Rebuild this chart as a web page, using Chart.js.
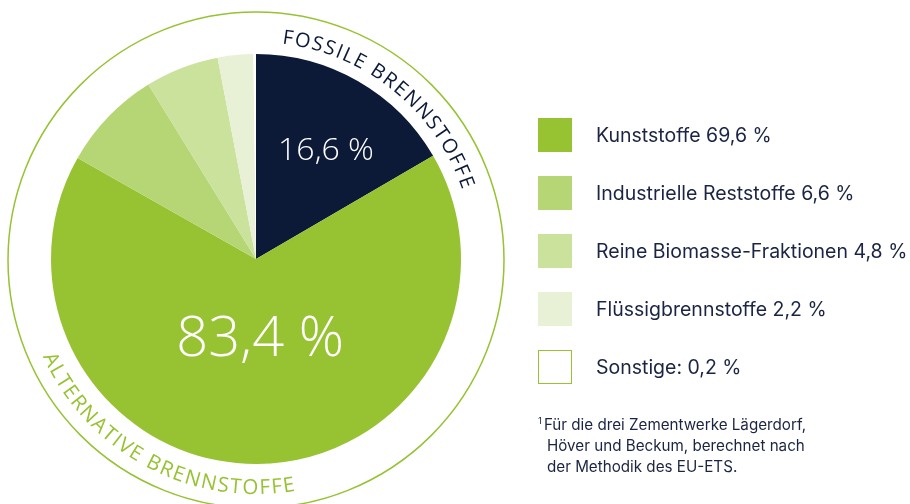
<!DOCTYPE html>
<html>
<head>
<meta charset="utf-8">
<script src="https://cdn.jsdelivr.net/npm/chart.js@4.4.1/dist/chart.umd.min.js"></script>
<style>
  html, body { margin: 0; padding: 0; background: #fff; }
  #wrap { position: relative; width: 910px; height: 504px; font-family: "Inter", "Open Sans", sans-serif; color: #1b2442; }
  #chart { position: absolute; left: 0; top: 0; }
  .row { position: absolute; left: 538px; height: 34px; display: flex; align-items: center; font-size: 19.5px; }
  .sw { width: 34px; height: 34px; box-sizing: border-box; margin-right: 24px; }
  #note { position: absolute; left: 538px; top: 410px; font-size: 15.2px; line-height: 21px; }
  #note sup { font-size: 9.5px; vertical-align: 6px; margin-right: 2px; }
  #note div { padding-left: 9px; }
</style>
</head>
<body>
<div id="wrap">
  <canvas id="chart" width="910" height="504"></canvas>
  <div id="legend"></div>
  <div id="note"><sup>1</sup>Für die drei Zementwerke Lägerdorf,<div>Höver und Beckum, berechnet nach</div><div>der Methodik des EU-ETS.</div></div>
</div>
<script>
// slices as drawn in the picture (share of the circle, %)
const sliceLabels = ['Fossile Brennstoffe', 'Kunststoffe', 'Industrielle Reststoffe', 'Reine Biomasse-Fraktionen', 'Flüssigbrennstoffe', 'Sonstige'];
const sliceShares = [16.6, 66.6, 8.0, 5.8, 2.8, 0.2];
const sliceColors = ['#0c1a38', '#97c232', '#b6d675', '#cbe29d', '#e8f1d6', '#ffffff'];

// legend entries (alternative fuels)
const legendNames = ['Kunststoffe', 'Industrielle Reststoffe', 'Reine Biomasse-Fraktionen', 'Flüssigbrennstoffe', 'Sonstige:'];
const legendValues = ['69,6', '6,6', '4,8', '2,2', '0,2'];

// group totals shown inside the pie
const groupNames = ['FOSSILE BRENNSTOFFE', 'ALTERNATIVE BRENNSTOFFE'];
const groupValues = ['16,6', '83,4'];

const navy = '#0c1a38';
const green = '#97c232';

// legend (html)
const legend = document.getElementById('legend');
legendNames.forEach(function(name, i) {
    const row = document.createElement('div');
    row.className = 'row';
    row.style.top = (118 + i * 58) + 'px';
    const sw = document.createElement('div');
    sw.className = 'sw';
    sw.style.background = sliceColors[i + 1];
    if (i === legendNames.length - 1) sw.style.border = '1.5px solid ' + green;
    row.appendChild(sw);
    const t = document.createElement('span');
    t.textContent = name + ' ' + legendValues[i] + ' %';
    row.appendChild(t);
    legend.appendChild(row);
});

function arcText(ctx, text, cx, cy, r, mid, spacing, outward) {
    const chars = Array.from(text);
    const widths = chars.map(ch => ctx.measureText(ch).width);
    const total = widths.reduce((a, b) => a + b, 0) + spacing * (chars.length - 1);
    const dir = outward ? 1 : -1;
    let a = mid - dir * total / 2 / r;
    chars.forEach(function(ch, i) {
        const ac = a + dir * widths[i] / 2 / r;
        ctx.save();
        ctx.translate(cx + r * Math.cos(ac), cy + r * Math.sin(ac));
        ctx.rotate(outward ? ac + Math.PI / 2 : ac - Math.PI / 2);
        ctx.fillText(ch, 0, 0);
        ctx.restore();
        a += dir * (widths[i] + spacing) / r;
    });
}

const decor = {
    id: 'decor',
    beforeDatasetsDraw(chart) {
        const arc = chart.getDatasetMeta(0).data[0];
        const ctx = chart.ctx;
        ctx.save();
        ctx.strokeStyle = green;
        ctx.lineWidth = 1.5;
        ctx.beginPath();
        ctx.arc(arc.x, arc.y + 1, 248, 0, Math.PI * 2);
        ctx.stroke();
        ctx.restore();
    },
    afterDraw(chart) {
        const arc = chart.getDatasetMeta(0).data[0];
        const ctx = chart.ctx;
        const cx = arc.x, cy = arc.y + 1;
        ctx.save();
        ctx.textAlign = 'center';
        ctx.textBaseline = 'alphabetic';
        ctx.font = '400 20px "Open Sans"';
        ctx.fillStyle = navy;
        arcText(ctx, groupNames[0], cx, cy, 218, -51 * Math.PI / 180, 1.6, true);
        ctx.fillStyle = green;
        ctx.font = '400 20.5px "Open Sans"';
        arcText(ctx, groupNames[1], cx, cy, 234, 118 * Math.PI / 180, 1.6, false);

        ctx.fillStyle = '#ffffff';
        ctx.textBaseline = 'middle';
        ctx.font = '300 32px "Open Sans"';
        ctx.fillText(groupValues[0] + ' %', cx + 70, cy - 109);
        ctx.font = '300 56px "Open Sans"';
        ctx.fillText(groupValues[1] + ' %', cx + 4, cy + 80);
        ctx.restore();
    }
};

new Chart(document.getElementById('chart').getContext('2d'), {
    type: 'pie',
    data: {
        labels: sliceLabels,
        datasets: [{
            data: sliceShares,
            backgroundColor: sliceColors,
            borderWidth: 0
        }]
    },
    options: {
        responsive: false,
        animation: false,
        layout: { padding: { left: 51, right: 449, top: 54, bottom: 40 } },
        plugins: {
            legend: { display: false },
            tooltip: { enabled: false }
        }
    },
    plugins: [decor]
});
</script>
</body>
</html>
